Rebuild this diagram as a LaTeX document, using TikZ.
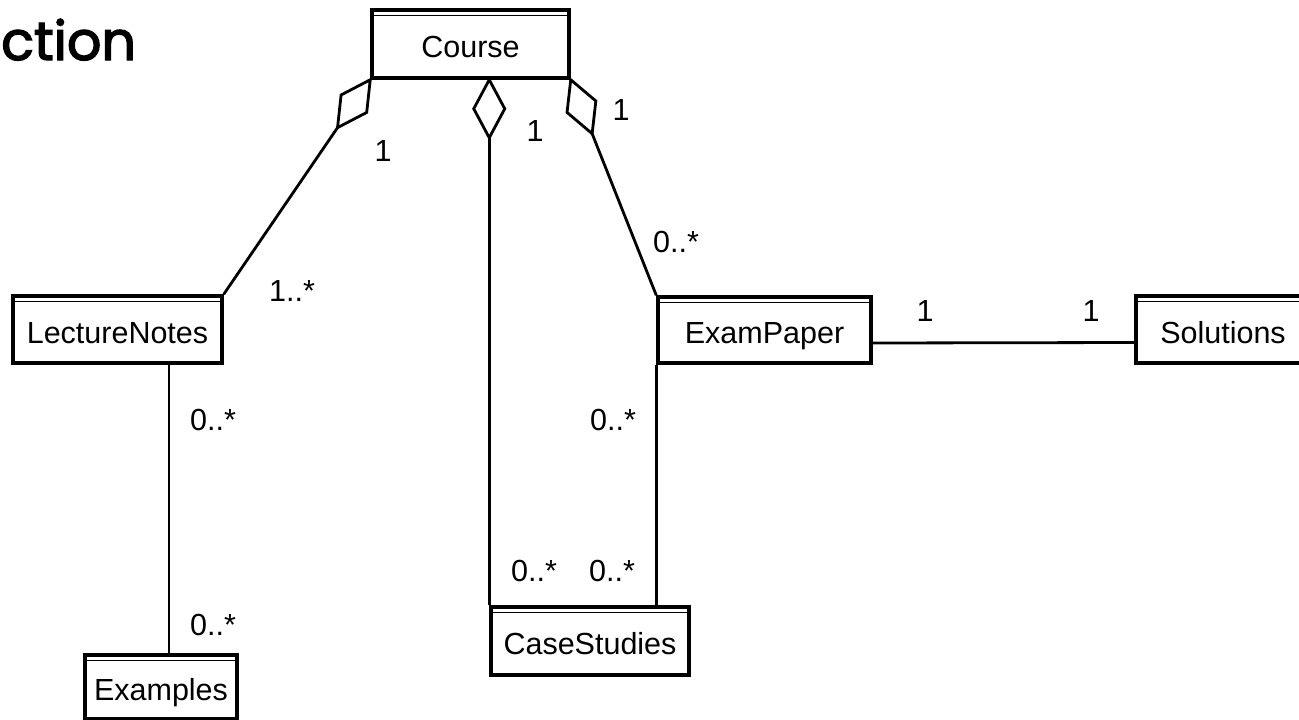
\documentclass[tikz,border=0pt]{standalone}
\usepackage{fontspec}
\setmainfont{Liberation Sans}
\newfontfamily\titlefont[FakeBold=2.5]{Poppins}
\usetikzlibrary{calc}
\tikzset{
  umlclass/.style={draw, line width=3.5pt, rectangle, inner sep=0pt,
    text height=27.6pt, text depth=0pt, font=\fontsize{30.5}{35}\selectfont,
    path picture={\draw[line width=1.3pt]
      ([yshift=-5.8pt]path picture bounding box.north west) --
      ([yshift=-5.8pt]path picture bounding box.north east);}},
  conn/.style={line width=2.8pt},
  mult/.style={inner sep=0pt, text height=21.8pt, text depth=0pt,
    font=\fontsize{30.5}{35}\selectfont},
}
\newcommand{\aggdiamond}[2]{%
  \coordinate (dtip) at (#1);
  \coordinate (dfar) at ($(#1)!58pt!(#2)$);
  \coordinate (dmid) at ($(dtip)!0.5!(dfar)$);
  \draw[conn, fill=white] (dtip) -- ($(dmid)!15.5pt!90:(dfar)$) -- (dfar)
    -- ($(dmid)!15.5pt!-90:(dfar)$) -- cycle;}
\begin{document}
\begin{tikzpicture}[x=1pt,y=-1pt]
\useasboundingbox (0,0) rectangle (1299,720);
\fill[white] (0,0) rectangle (1299,720);

\node[anchor=base west, inner sep=0pt, font=\titlefont\fontsize{54}{64}\selectfont] (title) at (1,60) {ction};

\node[umlclass, minimum width=197pt, minimum height=68pt] (course) at (470.5,44) {Course};
\node[umlclass, minimum width=209pt, minimum height=67pt] (ln) at (117.5,329.5) {LectureNotes};
\node[umlclass, minimum width=213pt, minimum height=66pt] (ep) at (764.5,330) {ExamPaper};
\node[umlclass, minimum width=174pt, minimum height=67pt] (sol) at (1223,329.5) {Solutions};
\node[umlclass, minimum width=198pt, minimum height=68pt] (cs) at (590,641) {CaseStudies};
\node[umlclass, minimum width=152pt, minimum height=64pt] (ex) at (161,687) {Examples};

\draw[conn] (course.south west) -- (ln.north east);
\aggdiamond{course.south west}{ln.north east}
\coordinate (ctip) at (cs.north west |- course.south);
\draw[conn] (ctip) -- (cs.north west);
\aggdiamond{ctip}{cs.north west}
\draw[conn] (course.south east) -- (ep.north west);
\aggdiamond{course.south east}{ep.north west}
\coordinate (lnx) at ([xshift=8pt]ex.north);
\draw[conn] (ln.south -| lnx) -- (lnx);
\draw[conn] (ep.south west) -- (ep.south west |- cs.north);
\draw[conn] ([yshift=-13pt]ep.east) -- ([yshift=-13pt]sol.west);

\node[mult] (m1) at (383,151) {1};
\node[mult] (m2) at (535,131) {1};
\node[mult] (m3) at (621,110) {1};
\node[mult] (m4) at (292,291) {1..*};
\node[mult] (m5) at (676,242) {0..*};
\node[mult] (m6) at (925,311) {1};
\node[mult] (m7) at (1091,311) {1};
\node[mult] (m8) at (213,420) {0..*};
\node[mult] (m9) at (613,420) {0..*};
\node[mult] (m10) at (534,571) {0..*};
\node[mult] (m11) at (612,571) {0..*};
\node[mult] (m12) at (213,625) {0..*};
\end{tikzpicture}
\end{document}
